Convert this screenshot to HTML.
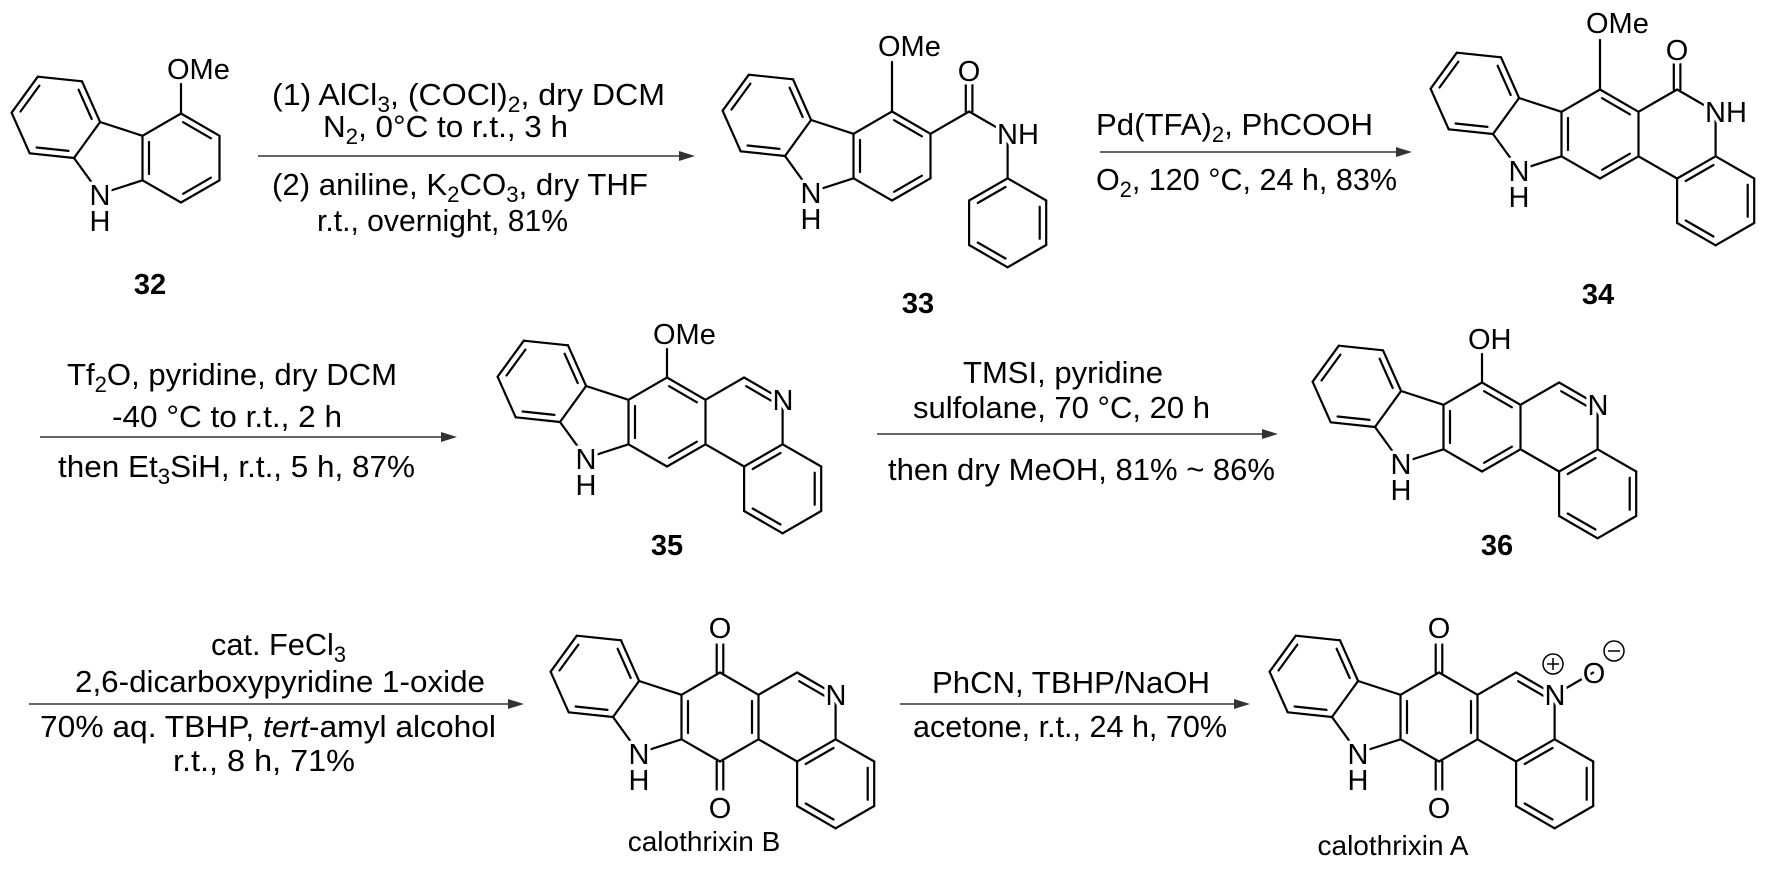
<!DOCTYPE html>
<html><head><meta charset="utf-8"><style>
html,body{margin:0;padding:0;background:#fff}
svg{display:block}
text{font-family:"Liberation Sans",Arial,sans-serif;fill:#000}
.c{font-size:31px}
.a{font-size:29px;paint-order:stroke;stroke:#fff;stroke-width:7px;stroke-linejoin:round}
.lb{font-size:29px;font-weight:bold}
.nm{font-size:28px}
</style></head><body>
<svg id="s" width="1772" height="872" viewBox="0 0 1772 872" xmlns="http://www.w3.org/2000/svg">
<g id="b" stroke="#000" stroke-width="2.2" stroke-linecap="round" fill="none"></g>
<g id="ar" stroke="#333" stroke-width="1.6" fill="#333"></g>

<text class="c" x="272" y="105" textLength="393" lengthAdjust="spacingAndGlyphs">(1)  AlCl<tspan dy="7" font-size="22">3</tspan><tspan dy="-7">, (COCl)</tspan><tspan dy="7" font-size="22">2</tspan><tspan dy="-7">, dry DCM</tspan></text>
<text class="c" x="323" y="137" textLength="245" lengthAdjust="spacingAndGlyphs">N<tspan dy="7" font-size="22">2</tspan><tspan dy="-7">, 0°C to r.t., 3 h</tspan></text>
<text class="c" x="272" y="195" textLength="376" lengthAdjust="spacingAndGlyphs">(2) aniline, K<tspan dy="7" font-size="22">2</tspan><tspan dy="-7">CO</tspan><tspan dy="7" font-size="22">3</tspan><tspan dy="-7">, dry THF</tspan></text>
<text class="c" x="317" y="231" textLength="251" lengthAdjust="spacingAndGlyphs">r.t., overnight, 81%</text>

<text class="c" x="1096" y="135" textLength="277" lengthAdjust="spacingAndGlyphs">Pd(TFA)<tspan dy="7" font-size="22">2</tspan><tspan dy="-7">, PhCOOH</tspan></text>
<text class="c" x="1096" y="190" textLength="301" lengthAdjust="spacingAndGlyphs">O<tspan dy="7" font-size="22">2</tspan><tspan dy="-7">, 120 °C, 24 h, 83%</tspan></text>

<text class="c" x="67" y="385" textLength="330" lengthAdjust="spacingAndGlyphs">Tf<tspan dy="7" font-size="22">2</tspan><tspan dy="-7">O, pyridine, dry DCM</tspan></text>
<text class="c" x="112" y="427" textLength="230" lengthAdjust="spacingAndGlyphs">-40 °C to r.t., 2 h</text>
<text class="c" x="58" y="477" textLength="357" lengthAdjust="spacingAndGlyphs">then Et<tspan dy="7" font-size="22">3</tspan><tspan dy="-7">SiH, r.t., 5 h, 87%</tspan></text>

<text class="c" x="963" y="383" textLength="200" lengthAdjust="spacingAndGlyphs">TMSI, pyridine</text>
<text class="c" x="913" y="418" textLength="297" lengthAdjust="spacingAndGlyphs">sulfolane, 70 °C, 20 h</text>
<text class="c" x="888" y="480" textLength="387" lengthAdjust="spacingAndGlyphs">then dry MeOH, 81% ~ 86%</text>

<text class="c" x="211" y="655" textLength="135" lengthAdjust="spacingAndGlyphs">cat. FeCl<tspan dy="7" font-size="22">3</tspan></text>
<text class="c" x="75" y="692" textLength="410" lengthAdjust="spacingAndGlyphs">2,6-dicarboxypyridine 1-oxide</text>
<text class="c" x="40" y="737" textLength="456" lengthAdjust="spacingAndGlyphs">70% aq. TBHP, <tspan font-style="italic">tert</tspan>-amyl alcohol</text>
<text class="c" x="173" y="771" textLength="182" lengthAdjust="spacingAndGlyphs">r.t., 8 h, 71%</text>

<text class="c" x="932" y="693" textLength="278" lengthAdjust="spacingAndGlyphs">PhCN, TBHP/NaOH</text>
<text class="c" x="913" y="737" textLength="314" lengthAdjust="spacingAndGlyphs">acetone, r.t., 24 h, 70%</text>

<text class="a" x="100" y="205" text-anchor="middle">N</text>
<text class="a" x="100" y="231" text-anchor="middle">H</text>
<text class="a" x="167" y="79">OMe</text>
<text class="a" x="811" y="203" text-anchor="middle">N</text>
<text class="a" x="811" y="229" text-anchor="middle">H</text>
<text class="a" x="878" y="56">OMe</text>
<text class="a" x="969" y="81" text-anchor="middle">O</text>
<text class="a" x="997" y="144">NH</text>
<text class="a" x="1519" y="181" text-anchor="middle">N</text>
<text class="a" x="1519" y="207" text-anchor="middle">H</text>
<text class="a" x="1586" y="33">OMe</text>
<text class="a" x="1677" y="60" text-anchor="middle">O</text>
<text class="a" x="1705" y="122">NH</text>
<text class="a" x="586" y="469" text-anchor="middle">N</text>
<text class="a" x="586" y="495" text-anchor="middle">H</text>
<text class="a" x="653" y="344">OMe</text>
<text class="a" x="783" y="410" text-anchor="middle">N</text>
<text class="a" x="1401" y="474" text-anchor="middle">N</text>
<text class="a" x="1401" y="500" text-anchor="middle">H</text>
<text class="a" x="1468" y="349">OH</text>
<text class="a" x="1598" y="415" text-anchor="middle">N</text>
<text class="a" x="639" y="764" text-anchor="middle">N</text>
<text class="a" x="639" y="790" text-anchor="middle">H</text>
<text class="a" x="720" y="638" text-anchor="middle">O</text>
<text class="a" x="720" y="818" text-anchor="middle">O</text>
<text class="a" x="836" y="705" text-anchor="middle">N</text>
<text class="a" x="1358" y="764" text-anchor="middle">N</text>
<text class="a" x="1358" y="790" text-anchor="middle">H</text>
<text class="a" x="1439" y="638" text-anchor="middle">O</text>
<text class="a" x="1439" y="818" text-anchor="middle">O</text>
<text class="a" x="1555" y="705" text-anchor="middle">N</text>
<text class="a" x="1594" y="683" text-anchor="middle">O</text>
<g stroke="#000" stroke-width="1.5" fill="none">
<circle cx="1553" cy="664" r="10"/><line x1="1547" y1="664" x2="1559" y2="664"/><line x1="1553" y1="658" x2="1553" y2="670"/>
<circle cx="1614" cy="651" r="10"/><line x1="1608" y1="651" x2="1620" y2="651"/>
</g>

<text class="lb" x="150" y="294" text-anchor="middle">32</text>
<text class="lb" x="918" y="313" text-anchor="middle">33</text>
<text class="lb" x="1598" y="304" text-anchor="middle">34</text>
<text class="lb" x="667" y="555" text-anchor="middle">35</text>
<text class="lb" x="1497" y="555" text-anchor="middle">36</text>
<text class="nm" x="704" y="851" text-anchor="middle">calothrixin B</text>
<text class="nm" x="1393" y="855" text-anchor="middle">calothrixin A</text>
</svg>
<script>
(function(){
const r=44.5, dx=r*Math.cos(Math.PI/6), dy=r/2;
let out='';
function L(a,b){out+='<line x1="'+a[0].toFixed(1)+'" y1="'+a[1].toFixed(1)+'" x2="'+b[0].toFixed(1)+'" y2="'+b[1].toFixed(1)+'"/>';}
function D(a,b,c){L(a,b);const mx=(a[0]+b[0])/2,my=(a[1]+b[1])/2;const vx=b[0]-a[0],vy=b[1]-a[1];const len=Math.hypot(vx,vy);let nx=-vy/len,ny=vx/len;if((c[0]-mx)*nx+(c[1]-my)*ny<0){nx=-nx;ny=-ny;}const o=6.5,s=0.14;L([a[0]+vx*s+nx*o,a[1]+vy*s+ny*o],[b[0]-vx*s+nx*o,b[1]-vy*s+ny*o]);}
function E(a,b){const vx=b[0]-a[0],vy=b[1]-a[1];const len=Math.hypot(vx,vy);const nx=-vy/len*3.3,ny=vx/len*3.3;L([a[0]+nx,a[1]+ny],[b[0]+nx,b[1]+ny]);L([a[0]-nx,a[1]-ny],[b[0]-nx,b[1]-ny]);}
function hex(cx,cy){return [[cx,cy-r],[cx+dx,cy-dy],[cx+dx,cy+dy],[cx,cy+r],[cx-dx,cy+dy],[cx-dx,cy-dy]];}
function carb(cx,cy){
 const h=hex(cx,cy);
 const R=r/(2*Math.sin(Math.PI/5)), pcx=cx-dx-R*Math.cos(Math.PI/5);
 const d=[pcx-R,cy], c=[pcx+R*Math.cos(3*Math.PI/5),cy-R*Math.sin(3*Math.PI/5)], n=[c[0],cy+R*Math.sin(3*Math.PI/5)];
 const mx=(c[0]+d[0])/2,my=(c[1]+d[1])/2;const ux=mx-pcx,uy=my-cy,ul=Math.hypot(ux,uy);
 const H=[mx+ux/ul*dx,my+uy/ul*dx];
 const lv=[];for(let k=0;k<6;k++){const a=k*Math.PI/3,px=c[0]-H[0],py=c[1]-H[1];lv.push([H[0]+px*Math.cos(a)-py*Math.sin(a),H[1]+px*Math.sin(a)+py*Math.cos(a)]);}
 L(c,h[5]);L(d,n);L(n,h[4]);
 D(lv[0],lv[5],H);L(lv[0],lv[1]);D(lv[1],lv[2],H);L(lv[2],lv[3]);D(lv[3],lv[4],H);L(lv[4],lv[5]);
 return h;
}
function std(h,c){D(h[5],h[4],c);D(h[0],h[1],c);L(h[1],h[2]);D(h[2],h[3],c);L(h[3],h[4]);L(h[5],h[0]);}
function quin(h,c){L(h[5],h[0]);L(h[0],h[1]);D(h[1],h[2],c);L(h[2],h[3]);L(h[3],h[4]);D(h[4],h[5],c);}
function benzo(cx,cy){const c=[cx+3*dx,cy+1.5*r],b=hex(c[0],c[1]);D(b[0],b[5],c);L(b[0],b[1]);D(b[1],b[2],c);L(b[2],b[3]);D(b[3],b[4],c);L(b[4],b[5]);}
function pyr(cx,cy,h){const c=[cx+2*dx,cy],f=hex(c[0],c[1]);L(h[1],f[0]);D(f[0],f[1],c);L(f[1],f[2]);L(f[3],h[2]);benzo(cx,cy);return f;}
let h;
h=carb(181,158);std(h,[181,158]);L(h[0],[181,84]);
h=carb(892,156);std(h,[892,156]);L(h[0],[892,62]);
{const C=[892+2*dx,156-r];L(h[1],C);E(C,[C[0],C[1]-28]);const N=[892+3*dx,156-dy];L(C,N);const ip=[N[0],N[1]+r];L(N,ip);
 const pc=[ip[0],ip[1]+r],p=hex(pc[0],pc[1]);D(p[1],p[2],pc);L(p[2],p[3]);D(p[3],p[4],pc);L(p[4],p[5]);D(p[5],p[0],pc);L(p[0],p[1]);}
h=carb(1600,134);std(h,[1600,134]);L(h[0],[1600,40]);
{const f=hex(1600+2*dx,134);L(h[1],f[0]);E(f[0],[f[0][0],f[0][1]-27]);L(f[0],f[1]);L(f[1],f[2]);L(f[3],h[2]);benzo(1600,134);}
h=carb(667,422);std(h,[667,422]);L(h[0],[667,349]);pyr(667,422,h);
h=carb(1482,427);std(h,[1482,427]);L(h[0],[1482,354]);pyr(1482,427,h);
h=carb(720,717);quin(h,[720,717]);E(h[0],[720,717-r-28]);E(h[3],[720,717+r+28]);pyr(720,717,h);
h=carb(1439,717);quin(h,[1439,717]);E(h[0],[1439,717-r-28]);E(h[3],[1439,717+r+28]);
{const f=pyr(1439,717,h);L(f[1],[f[1][0]+dx,f[1][1]-dy]);}
document.getElementById('b').innerHTML=out;
let a='';
function A(x1,x2,y){a+='<line x1="'+x1+'" y1="'+y+'" x2="'+(x2-12)+'" y2="'+y+'"/><polygon stroke="none" points="'+x2+','+y+' '+(x2-16)+','+(y-5)+' '+(x2-16)+','+(y+5)+'"/>';}
A(258,695,156);A(1100,1412,152);A(40,457,437);A(877,1278,434);A(29,524,704);A(900,1250,704);
document.getElementById('ar').innerHTML=a;
})();
</script>
</body></html>
